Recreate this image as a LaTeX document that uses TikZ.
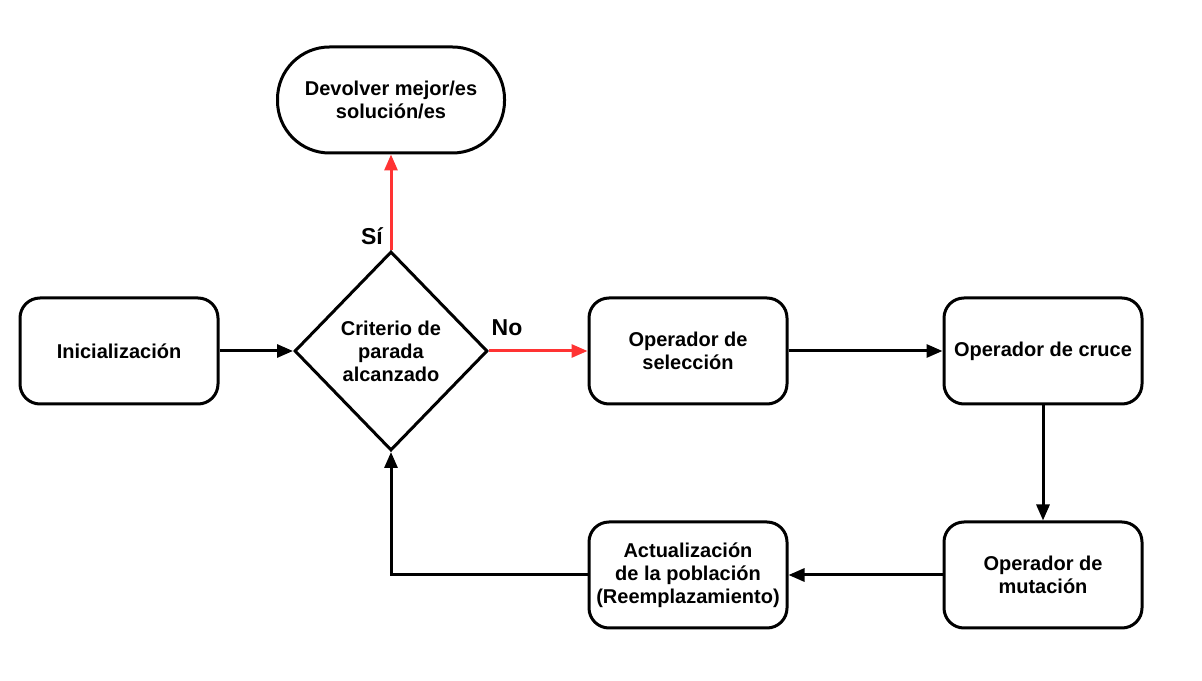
\documentclass[tikz,border=0pt]{standalone}
\usepackage{fontspec}
\setmainfont{Liberation Sans}
\usetikzlibrary{shapes.geometric,arrows.meta}

\definecolor{arrowRed}{RGB}{255,51,51}

\tikzset{
  procbox/.style={draw=black, line width=3pt, rounded corners=20pt, fill=white,
    minimum width=198pt, minimum height=106pt, inner sep=0pt,
    align=center, font=\fontsize{20}{23}\selectfont\bfseries},
  termbox/.style={procbox, rounded corners=52pt, minimum width=227pt},
  decbox/.style={draw=black, line width=3pt, diamond, aspect=0.97, fill=white,
    minimum width=193pt, minimum height=199pt, inner sep=0pt,
    align=center, font=\fontsize{20}{23}\selectfont\bfseries},
  flow/.style={line width=3pt, -{Triangle[length=16pt,width=13pt]}},
  flowRed/.style={flow, draw=arrowRed, -{Triangle[length=16pt,width=13pt,fill=arrowRed]}},
  branch/.style={font=\fontsize{23}{26}\selectfont\bfseries, inner sep=0pt}
}

\begin{document}
\begin{tikzpicture}[x=1pt,y=1pt]
\path[use as bounding box,fill=white] (0,0) rectangle (1202,680);

% nodes
\node[procbox] (init) at (119,329) {Inicialización};
\node[decbox] (crit) at (391,329) {Criterio de\\parada\\alcanzado};
\node[termbox] (ret) at (391,580) {Devolver mejor/es\\solución/es};
\node[procbox] (sel) at (688,329) {Operador de\\selección};
\node[procbox] (cross) at (1043,329) {Operador de cruce};
\node[procbox] (mut) at (1043,105) {Operador de\\mutación};
\node[procbox] (upd) at (688,105) {Actualización\\de la población\\(Reemplazamiento)};

\coordinate (bend) at (391,105);

% connectors
\draw[flow] (init.east) -- (crit.west);
\draw[flowRed] (crit.east) -- (sel.west);
\draw[flowRed] (crit.north) -- (ret.south);
\draw[flow] (sel.east) -- (cross.west);
\draw[flow] (cross.south) -- (mut.north);
\draw[flow] (mut.west) -- (upd.east);
\draw[flow, rounded corners=0pt] (upd.west) -- (bend) -- (crit.south);

% branch labels
\node[branch] (yes) at (372,444) {Sí};
\node[branch] (no) at (507,352) {No};
\end{tikzpicture}
\end{document}
